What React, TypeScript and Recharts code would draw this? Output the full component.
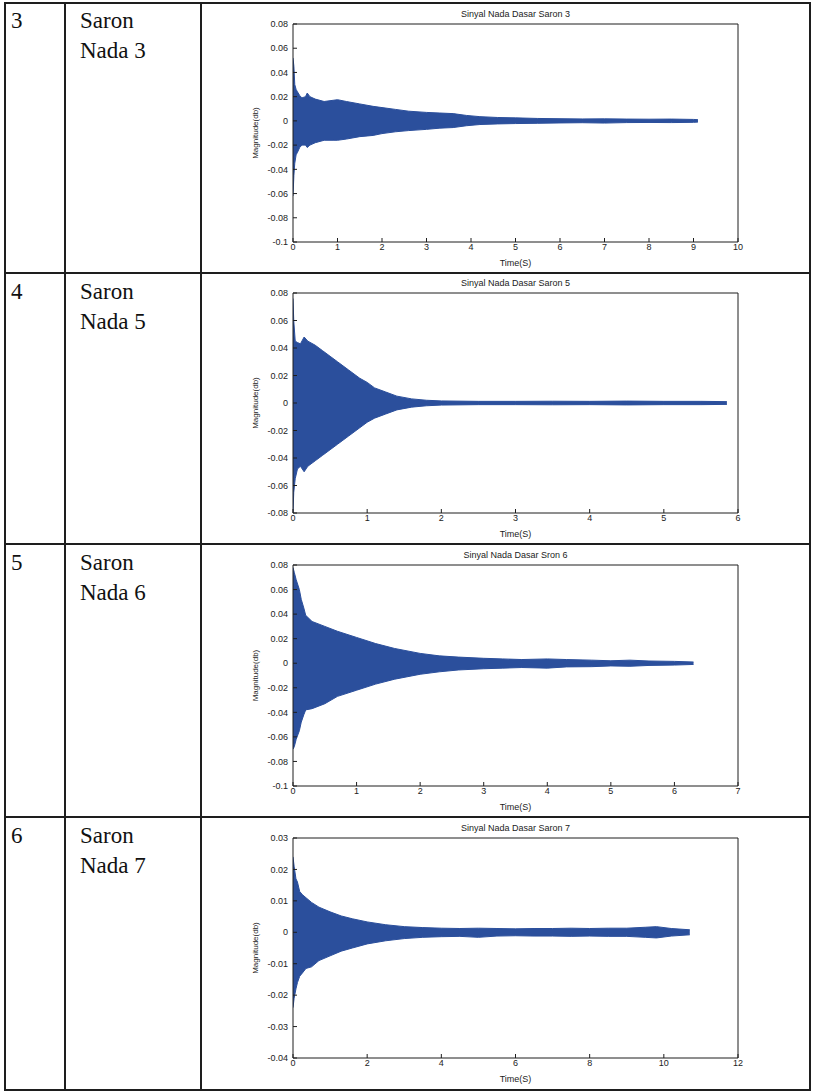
import { ComposedChart, Area, XAxis, YAxis } from 'recharts';

// Saron 3
const t3 = [0, 0.02, 0.04, 0.07, 0.1, 0.15, 0.2, 0.28, 0.32, 0.38, 0.5, 0.7, 0.9, 1.0, 1.2, 1.5, 1.8, 2.0, 2.3, 2.6, 3.0, 3.3, 3.6, 3.9, 4.2, 4.6, 5.0, 5.5, 6.0, 6.5, 7.0, 7.5, 8.0, 8.5, 9.0, 9.1];
const hi3 = [0.052, 0.045, 0.03, 0.026, 0.024, 0.021, 0.019, 0.02, 0.023, 0.02, 0.018, 0.016, 0.017, 0.0175, 0.016, 0.014, 0.012, 0.011, 0.0095, 0.008, 0.007, 0.0065, 0.006, 0.0045, 0.0035, 0.0028, 0.0025, 0.002, 0.0018, 0.0016, 0.0017, 0.0015, 0.0014, 0.0015, 0.0012, 0.001];
const lo3 = [-0.062, -0.045, -0.035, -0.028, -0.026, -0.022, -0.02, -0.02, -0.022, -0.02, -0.018, -0.016, -0.016, -0.016, -0.015, -0.013, -0.012, -0.0105, -0.009, -0.008, -0.007, -0.006, -0.0055, -0.004, -0.003, -0.0025, -0.0022, -0.002, -0.0017, -0.0015, -0.0018, -0.0014, -0.0013, -0.0014, -0.0012, -0.001];

// Saron 5
const t5 = [0, 0.01, 0.03, 0.06, 0.1, 0.15, 0.2, 0.3, 0.4, 0.5, 0.6, 0.75, 0.9, 1.0, 1.1, 1.25, 1.4, 1.6, 1.8, 2.0, 2.5, 3.0, 3.5, 4.0, 4.5, 5.0, 5.5, 5.85];
const hi5 = [0.076, 0.06, 0.045, 0.044, 0.043, 0.048, 0.045, 0.042, 0.038, 0.034, 0.03, 0.024, 0.018, 0.015, 0.011, 0.008, 0.005, 0.003, 0.002, 0.0015, 0.0012, 0.0012, 0.0013, 0.0012, 0.0014, 0.0012, 0.0012, 0.001];
const lo5 = [-0.08, -0.065, -0.055, -0.048, -0.046, -0.05, -0.046, -0.042, -0.038, -0.034, -0.03, -0.024, -0.018, -0.014, -0.011, -0.008, -0.005, -0.003, -0.002, -0.0015, -0.0012, -0.0012, -0.0013, -0.0012, -0.0014, -0.0012, -0.0012, -0.001];

// Saron 6
const t6 = [0, 0.02, 0.05, 0.1, 0.13, 0.17, 0.2, 0.3, 0.5, 0.7, 1.0, 1.3, 1.6, 2.0, 2.3, 2.6, 3.0, 3.3, 3.6, 4.0, 4.3, 4.7, 5.0, 5.3, 5.6, 6.0, 6.3];
const hi6 = [0.078, 0.074, 0.068, 0.06, 0.052, 0.045, 0.039, 0.034, 0.03, 0.026, 0.021, 0.016, 0.012, 0.008, 0.006, 0.005, 0.004, 0.0035, 0.003, 0.0035, 0.003, 0.0025, 0.002, 0.0025, 0.0018, 0.0015, 0.001];
const lo6 = [-0.07, -0.068, -0.062, -0.055, -0.048, -0.042, -0.038, -0.037, -0.033, -0.027, -0.022, -0.017, -0.013, -0.009, -0.007, -0.0055, -0.0045, -0.004, -0.0035, -0.004, -0.003, -0.0028, -0.0022, -0.0025, -0.0018, -0.0015, -0.001];

// Saron 7
const t7 = [0, 0.03, 0.08, 0.12, 0.18, 0.25, 0.35, 0.5, 0.7, 1.0, 1.3, 1.6, 2.0, 2.5, 3.0, 3.5, 4.0, 4.5, 5.0, 5.5, 6.0, 6.5, 7.0, 7.5, 8.0, 8.5, 9.0, 9.5, 9.8, 10.2, 10.7];
const hi7 = [0.024, 0.021, 0.017, 0.016, 0.013, 0.012, 0.011, 0.0095, 0.008, 0.0065, 0.0052, 0.0043, 0.0033, 0.0024, 0.0018, 0.0015, 0.0013, 0.0012, 0.0013, 0.0012, 0.0011, 0.0012, 0.0012, 0.0013, 0.0012, 0.0013, 0.0013, 0.0016, 0.0018, 0.0012, 0.0008];
const lo7 = [-0.024, -0.021, -0.018, -0.016, -0.014, -0.013, -0.0115, -0.011, -0.009, -0.0075, -0.006, -0.005, -0.0037, -0.0027, -0.002, -0.0016, -0.0014, -0.0013, -0.0016, -0.0012, -0.0011, -0.0012, -0.0012, -0.0013, -0.0012, -0.0013, -0.0013, -0.0016, -0.0018, -0.0012, -0.0008];

const xTicks10 = [0, 1, 2, 3, 4, 5, 6, 7, 8, 9, 10];
const xTicks6 = [0, 1, 2, 3, 4, 5, 6];
const xTicks7 = [0, 1, 2, 3, 4, 5, 6, 7];
const xTicks12 = [0, 2, 4, 6, 8, 10, 12];
const yTicksA = [-0.1, -0.08, -0.06, -0.04, -0.02, 0, 0.02, 0.04, 0.06, 0.08];
const yTicksB = [-0.08, -0.06, -0.04, -0.02, 0, 0.02, 0.04, 0.06, 0.08];
const yTicksC = [-0.04, -0.03, -0.02, -0.01, 0, 0.01, 0.02, 0.03];

const rowNumbers = ['3', '4', '5', '6'];
const rowNames = ['Nada 3', 'Nada 5', 'Nada 6', 'Nada 7'];
const titles = ['Sinyal Nada Dasar Saron 3', 'Sinyal Nada Dasar Saron 5', 'Sinyal Nada Dasar Sron 6', 'Sinyal Nada Dasar Saron 7'];

const BLUE = '#2b4f9c';
const LINE = '#1e1e1e';
const SANS = "'Liberation Sans', Arial, sans-serif";
const SERIF = "'Liberation Serif', 'Times New Roman', 'DejaVu Serif', serif";
const fmt = (v: number) => (v === 0 ? '0' : String(Number(v.toFixed(2))));

const build = (t: number[], hi: number[], lo: number[]) => t.map((x, i) => ({ t: x, r: [lo[i], hi[i]] }));

interface PlotProps {
  title: string;
  data: { t: number; r: number[] }[];
  xTicks: number[];
  yTicks: number[];
  top: number;
  height: number;
  mTop: number;
  mBottom: number;
}

function Plot({ title, data, xTicks, yTicks, top, height, mTop, mBottom }: PlotProps) {
  const xd: [number, number] = [xTicks[0], xTicks[xTicks.length - 1]];
  const yd: [number, number] = [yTicks[0], yTicks[yTicks.length - 1]];
  const tickStyle = { fontSize: 9, fill: '#222', fontFamily: SANS };
  return (
    <div style={{ position: 'absolute', left: 201, top, width: 609, height }}>
      <div
        style={{
          position: 'absolute', left: 92, width: 445, top: mTop - 15, textAlign: 'center',
          fontFamily: SANS, fontSize: 9, color: '#222',
        }}
      >
        {title}
      </div>
      <ComposedChart width={609} height={height} data={data} margin={{ top: mTop - 1, right: 71, bottom: mBottom, left: 47 }}>
        <XAxis
          xAxisId="b" type="number" dataKey="t" domain={xd} ticks={xTicks} allowDataOverflow
          tickSize={-4} tickMargin={6} height={24} tick={tickStyle}
          stroke={LINE} interval={0}
          label={{ value: 'Time(S)', position: 'insideBottom', offset: 0, style: { fontSize: 9, fill: '#222', fontFamily: SANS } }}
        />
        <XAxis
          xAxisId="t" orientation="top" type="number" dataKey="t" domain={xd} ticks={xTicks} allowDataOverflow
          tickSize={-4} height={1} tick={false} stroke={LINE} interval={0}
        />
        <YAxis
          yAxisId="l" type="number" domain={yd} ticks={yTicks} allowDataOverflow
          tickSize={-4} tickMargin={9} width={45} tick={tickStyle} tickFormatter={fmt}
          stroke={LINE} interval={0}
          label={{ value: 'Magnitude(db)', angle: -90, position: 'insideLeft', offset: 7, style: { fontSize: 8, fill: '#222', textAnchor: 'middle', fontFamily: SANS } }}
        />
        <YAxis
          yAxisId="r" orientation="right" type="number" domain={yd} ticks={yTicks} allowDataOverflow
          tickSize={-4} width={1} tick={false} stroke={LINE} interval={0}
        />
        <Area
          xAxisId="b" yAxisId="l" type="linear" dataKey="r"
          stroke={BLUE} strokeWidth={1} fill={BLUE} fillOpacity={1} isAnimationActive={false} dot={false} activeDot={false}
        />
        <Area
          xAxisId="t" yAxisId="r" type="linear" dataKey="r"
          stroke="none" fill="none" isAnimationActive={false} dot={false} activeDot={false}
        />
      </ComposedChart>
    </div>
  );
}

const rows = [
  { top: 3, height: 270, mTop: 21, mBottom: 7, data: build(t3, hi3, lo3), xTicks: xTicks10, yTicks: yTicksA },
  { top: 274, height: 270, mTop: 19, mBottom: 7, data: build(t5, hi5, lo5), xTicks: xTicks6, yTicks: yTicksB },
  { top: 545, height: 272, mTop: 20, mBottom: 7, data: build(t6, hi6, lo6), xTicks: xTicks7, yTicks: yTicksA },
  { top: 818, height: 272, mTop: 20, mBottom: 8, data: build(t7, hi7, lo7), xTicks: xTicks12, yTicks: yTicksC },
];

const hLines = [2, 272, 543, 816, 1089];
const vLines = [4, 64, 200, 809];

export default function App() {
  return (
    <div style={{ position: 'absolute', left: 0, top: 0, width: 813, height: 1092, background: '#fff', overflow: 'hidden' }}>
      {hLines.map((y) => (
        <div key={'h' + y} style={{ position: 'absolute', left: 4, top: y, width: 807, height: 2, background: LINE }} />
      ))}
      {vLines.map((x) => (
        <div key={'v' + x} style={{ position: 'absolute', left: x, top: 2, width: 2, height: 1089, background: LINE }} />
      ))}
      {rows.map((r, i) => (
        <div key={'txt' + i}>
          <div style={{ position: 'absolute', left: 11, top: r.top + 3, fontFamily: SERIF, fontSize: 23, lineHeight: '29px', color: '#111' }}>
            {rowNumbers[i]}
          </div>
          <div style={{ position: 'absolute', left: 80, top: r.top + 3, fontFamily: SERIF, fontSize: 23, lineHeight: '30px', color: '#111' }}>
            Saron
            <br />
            {rowNames[i]}
          </div>
          <Plot title={titles[i]} data={r.data} xTicks={r.xTicks} yTicks={r.yTicks} top={r.top} height={r.height} mTop={r.mTop} mBottom={r.mBottom} />
        </div>
      ))}
    </div>
  );
}
